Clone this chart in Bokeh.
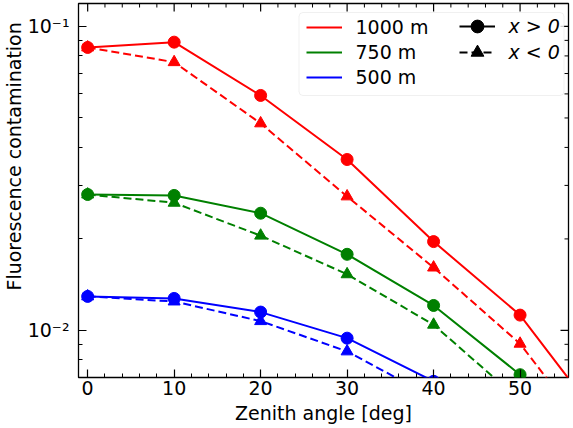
import math
from bokeh.plotting import figure
from bokeh.models import (Range1d, FixedTicker, Title,
                          Legend, LegendItem, BoxAnnotation, ColumnDataSource)
from bokeh.embed import file_html
from bokeh.resources import INLINE

# ---------------- data ----------------
zenith = [0, 10, 20, 30, 40, 50, 60]
distances = ["1000 m", "750 m", "500 m"]
colors = ["#ff0000", "#008000", "#0000ff"]

pos_1000 = [0.0853, 0.0888, 0.0593, 0.0365, 0.0196, 0.01123, 0.00476]
neg_1000 = [0.0853, 0.0763, 0.0480, 0.0276, 0.0161, 0.00904, 0.00386]
pos_750 = [0.0280, 0.0278, 0.0243, 0.0178, 0.01208, 0.00715, 0.0043]
neg_750 = [0.0280, 0.0263, 0.0205, 0.0153, 0.01044, 0.00588, 0.0033]
pos_500 = [0.01294, 0.01274, 0.01149, 0.00943, 0.0068, 0.0049, 0.0035]
neg_500 = [0.01294, 0.01245, 0.01073, 0.00853, 0.0060, 0.0042, 0.0030]

x_major = [0, 10, 20, 30, 40, 50]
x_minor = [v for v in range(-2, 58, 2) if v % 10 != 0]
y_major = [0.01, 0.1]
y_major_labels = {0.01: "10⁻²", 0.1: "10⁻¹"}
y_minor = [k * 10.0 ** e for e in (-3, -2, -1) for k in range(2, 10)]

x_label = "Zenith angle [deg]"
y_label = "Fluorescence contamination"
sign_labels = ["x > 0", "x < 0"]

X0, X1 = -1.06, 55.6
Y0, Y1 = 0.0070, 0.119

FONT = "DejaVu Sans"
FS = "19px"

p = figure(width=573, height=428, output_backend="svg", toolbar_location=None,
           y_axis_type="log", x_range=Range1d(X0, X1), y_range=Range1d(Y0, Y1),
           min_border_left=78, min_border_right=5, min_border_top=3, min_border_bottom=51)
p.grid.visible = False
p.outline_line_color = "black"
p.outline_line_width = 1.3
p.background_fill_color = "white"
p.border_fill_color = "white"


def style_axis(ax):
    ax.axis_line_color = None
    ax.major_tick_in = 8
    ax.major_tick_out = 0
    ax.minor_tick_in = 4
    ax.minor_tick_out = 0
    ax.major_tick_line_color = "black"
    ax.minor_tick_line_color = "black"
    ax.major_tick_line_width = 1.2
    ax.minor_tick_line_width = 1
    ax.major_label_text_font = FONT
    ax.major_label_text_font_size = FS
    ax.major_label_text_color = "black"


xa = p.xaxis[0]
xa.ticker = FixedTicker(ticks=x_major, minor_ticks=x_minor)
style_axis(xa)
xa.major_label_standoff = 3
xa.axis_label = x_label
xa.axis_label_text_font = FONT
xa.axis_label_text_font_size = FS
xa.axis_label_text_font_style = "normal"
xa.axis_label_text_color = "black"
xa.axis_label_standoff = 4

ya = p.yaxis[0]
ya.ticker = FixedTicker(ticks=y_major, minor_ticks=y_minor)
ya.major_label_overrides = y_major_labels
style_axis(ya)
ya.major_label_standoff = 9

# y label as a side title so it can be shifted along the axis
p.add_layout(Title(text=y_label, align="left", offset=87, standoff=0,
                   text_font=FONT, text_font_size=FS, text_font_style="normal",
                   text_color="black"), "left")

# mirrored inward ticks on top and right edges (dash markers clipped by the frame)
p.scatter(x_major, [Y1] * len(x_major), marker="dash", size=16, angle=math.pi / 2,
          line_color="black", line_width=1.2)
p.scatter(x_minor, [Y1] * len(x_minor), marker="dash", size=8, angle=math.pi / 2,
          line_color="black", line_width=1)
p.scatter([X1] * len(y_major), y_major, marker="dash", size=16,
          line_color="black", line_width=1.2)
p.scatter([X1] * len(y_minor), y_minor, marker="dash", size=8,
          line_color="black", line_width=1)

series = [(pos_1000, neg_1000), (pos_750, neg_750), (pos_500, neg_500)]
solid_lines = []
for (pos, neg), c in zip(series, colors):
    p.line(zenith, neg, line_color=c, line_width=2, line_dash="8 4")
    p.scatter(zenith, neg, marker="triangle", size=12, fill_color=c, line_color=c, line_width=1)
    ln = p.line(zenith, pos, line_color=c, line_width=2)
    p.scatter(zenith, pos, marker="circle", size=12, fill_color=c, line_color=c, line_width=1)
    solid_lines.append(ln)

# legend frame
p.add_layout(BoxAnnotation(left=220.5, right=485.5, bottom=282, top=365,
                           left_units="screen", right_units="screen",
                           top_units="screen", bottom_units="screen",
                           fill_color="white", fill_alpha=0.8, line_color="#cccccc",
                           line_width=1, border_radius=4))

common = dict(glyph_width=36, label_standoff=14, padding=0, margin=0,
              border_line_color=None, background_fill_alpha=0,
              label_text_font=FONT, label_text_font_size=FS, label_text_color="black")

legA = Legend(items=[LegendItem(label=d, renderers=[r]) for d, r in zip(distances, solid_lines)],
              location=(227.5, 289), glyph_height=20, spacing=3, **common)
p.add_layout(legA)

off = ColumnDataSource(data=dict(x=[-100, -90], y=[1.0, 1.0]))
k_line = p.line("x", "y", source=off, line_color="black", line_width=2)
k_circ = p.scatter("x", "y", source=off, marker="circle", fill_color="black", line_color="black")
k_dash = p.line("x", "y", source=off, line_color="black", line_width=2, line_dash="8 4")
k_tri = p.scatter("x", "y", source=off, marker="triangle", fill_color="black", line_color="black")

legB1 = Legend(items=[LegendItem(label=sign_labels[0], renderers=[k_line, k_circ])],
               location=(380.5, 335), glyph_height=32, spacing=0,
               label_text_font_style="italic", **common)
legB2 = Legend(items=[LegendItem(label=sign_labels[1], renderers=[k_dash, k_tri])],
               location=(380.5, 309), glyph_height=32, spacing=0,
               label_text_font_style="italic", **common)
p.add_layout(legB1)
p.add_layout(legB2)

open("out.html", "w").write(file_html(p, INLINE))
